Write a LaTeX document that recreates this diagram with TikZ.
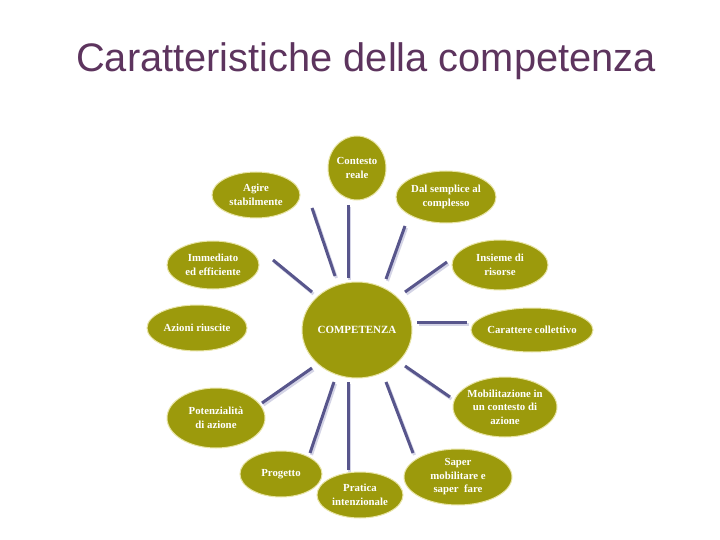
\documentclass[tikz,border=0pt]{standalone}
\usepackage{fontspec}
\setmainfont{Liberation Serif}
\newfontfamily\titlefont{Liberation Sans}
\usetikzlibrary{shapes.geometric}
\definecolor{olivefill}{RGB}{156,154,12}
\definecolor{oliveedge}{RGB}{232,228,165}
\definecolor{spokec}{RGB}{88,86,140}
\definecolor{spokesh}{RGB}{212,212,230}
\definecolor{titlec}{RGB}{93,52,94}
\begin{document}
\begin{tikzpicture}[x=1pt,y=-1pt,
 sat/.style={ellipse, fill=olivefill, draw=oliveedge, line width=1pt, inner sep=0pt},
 lab/.style={text=white, font=\bfseries\fontsize{10.8}{13.5}\selectfont, align=center, inner sep=0pt},
 spoke/.style={draw=spokec, line width=3pt},
 spokeshadow/.style={draw=spokesh, line width=3pt}]
\useasboundingbox[fill=white] (0,0) rectangle (720,540);
\node[font=\titlefont\fontsize{39.8}{44}\selectfont, text=titlec] (title) at (366,61) {Caratteristiche della competenza};

% spoke end coordinates
\coordinate (a1) at (348,205); \coordinate (b1) at (348,278);
\coordinate (a2) at (312,208); \coordinate (b2) at (335,276);
\coordinate (a3) at (405,226); \coordinate (b3) at (386,279);
\coordinate (a4) at (273,260); \coordinate (b4) at (312,292);
\coordinate (a5) at (447,262); \coordinate (b5) at (405,292);
\coordinate (a7) at (467,322); \coordinate (b7) at (417,322);
\coordinate (a8) at (262,403); \coordinate (b8) at (312,368);
\coordinate (a9) at (450,397); \coordinate (b9) at (405,366);
\coordinate (a10) at (310,453); \coordinate (b10) at (334,382);
\coordinate (a11) at (348,470); \coordinate (b11) at (348,382);
\coordinate (a12) at (413,453); \coordinate (b12) at (386,382);

\foreach \i in {1,2,3,4,5,7,8,9,10,11,12}{
  \draw[spokeshadow] ([shift={(1.5,2)}]a\i) -- ([shift={(1.5,2)}]b\i);
}
\foreach \i in {1,2,3,4,5,7,8,9,10,11,12}{
  \draw[spoke] (a\i) -- (b\i);
}

\node[sat, minimum width=110, minimum height=96, label={[lab, font=\bfseries\fontsize{11}{13}\selectfont]center:{COMPETENZA}}] (comp) at (357,330) {};

\node[sat, minimum width=58, minimum height=64, label={[lab]center:{Contesto\\reale}}] (n1) at (357,168) {};
\node[sat, minimum width=88, minimum height=46, label={[lab]center:{Agire\\stabilmente}}] (n2) at (256,195) {};
\node[sat, minimum width=100, minimum height=52, label={[lab]center:{Dal semplice al\\complesso}}] (n3) at (446,197) {};
\node[sat, minimum width=92, minimum height=48, label={[lab]center:{Immediato\\ed efficiente}}] (n4) at (213,265) {};
\node[sat, minimum width=96, minimum height=50, label={[lab]center:{Insieme di\\risorse}}] (n5) at (500,265) {};
\node[sat, minimum width=100, minimum height=46, label={[lab]center:{Azioni riuscite}}] (n6) at (197,328) {};
\node[sat, minimum width=122, minimum height=44, label={[lab]center:{Carattere collettivo}}] (n7) at (532,330) {};
\node[sat, minimum width=98, minimum height=60, label={[lab]center:{Potenzialit\`a\\di azione}}] (n8) at (216,418) {};
\node[sat, minimum width=104, minimum height=60, label={[lab]center:{Mobilitazione in\\un contesto di\\azione}}] (n9) at (505,407) {};
\node[sat, minimum width=82, minimum height=46, label={[lab]center:{Progetto}}] (n10) at (281,474) {};
\node[sat, minimum width=86, minimum height=46, label={[lab]center:{Pratica\\intenzionale}}] (n11) at (360,495) {};
\node[sat, minimum width=108, minimum height=56, label={[lab]center:{Saper\\mobilitare e\\saper\ \ fare}}] (n12) at (458,477) {};
\end{tikzpicture}
\end{document}
